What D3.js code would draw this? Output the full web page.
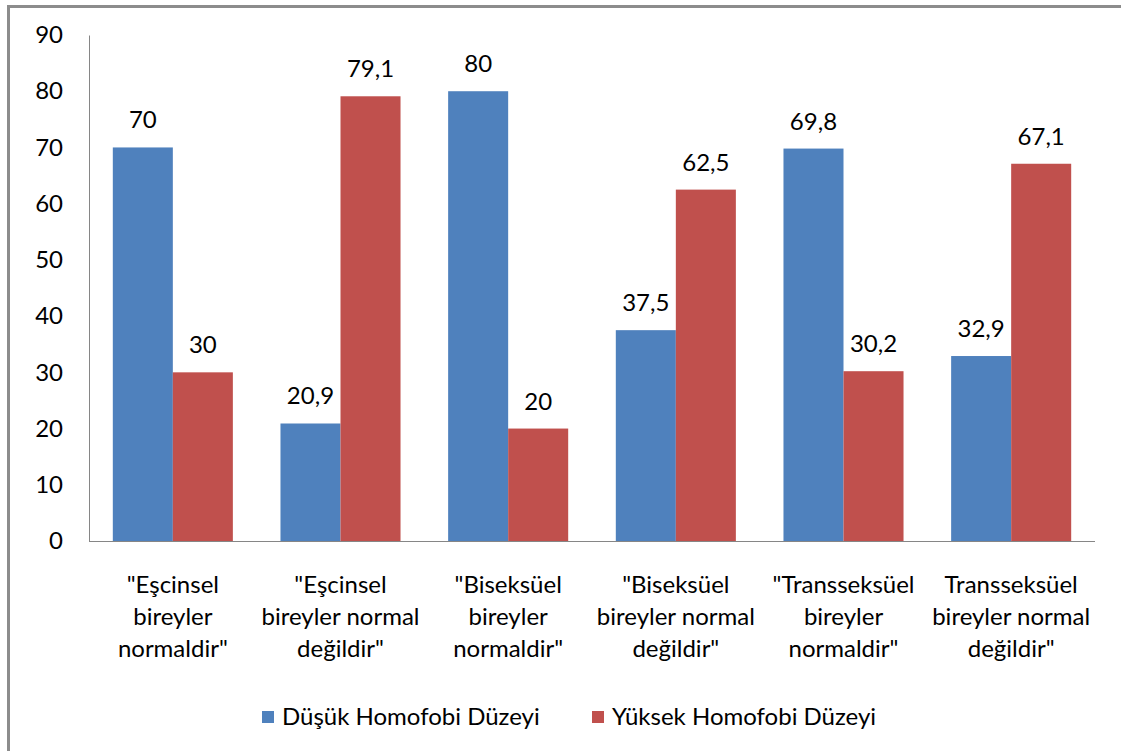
<!DOCTYPE html>
<html>
<head>
<meta charset="utf-8">
<script src="https://cdn.jsdelivr.net/npm/d3@7"></script>
<style>
  body { margin: 0; background: #fff; }
  svg text { font-family: Lato, "Open Sans", sans-serif; fill: #000; }
</style>
</head>
<body>
<div class="chart"></div>
<script>
// veriler
const categories = [
  ['"Eşcinsel', 'bireyler', 'normaldir"'],
  ['"Eşcinsel', 'bireyler normal', 'değildir"'],
  ['"Biseksüel', 'bireyler', 'normaldir"'],
  ['"Biseksüel', 'bireyler normal', 'değildir"'],
  ['"Transseksüel', 'bireyler', 'normaldir"'],
  ['Transseksüel', 'bireyler normal', 'değildir"']
];
const seriesNames = ['Düşük Homofobi Düzeyi', 'Yüksek Homofobi Düzeyi'];
const dusuk = [70, 20.9, 80, 37.5, 69.8, 32.9];
const yuksek = [30, 79.1, 20, 62.5, 30.2, 67.1];
const yTicks = [0, 10, 20, 30, 40, 50, 60, 70, 80, 90];
const colors = ['#4F81BD', '#C0504D'];

const W = 1121, H = 751;
const margin = {top: 35, right: 26, bottom: 210, left: 89};
const chartW = W - margin.left - margin.right;
const chartH = H - margin.top - margin.bottom;

const svg = d3.select('.chart').append('svg')
  .attr('width', W).attr('height', H);

// çerçeve
svg.append('path')
  .attr('d', `M8.5,${H} L8.5,6.5 L${W},6.5`)
  .attr('fill', 'none').attr('stroke', '#8c8c8c').attr('stroke-width', 3);

const g = svg.append('g').attr('transform', `translate(${margin.left},${margin.top})`);

const idx = d3.range(categories.length);
const x0 = d3.scaleBand().domain(idx).range([0, chartW]).paddingInner(0.284).paddingOuter(0.142);
const x1 = d3.scaleBand().domain([0, 1]).range([0, x0.bandwidth()]);
const y = d3.scaleLinear().domain([0, 90]).range([chartH, 0]);

// y ekseni
const yAxis = d3.axisLeft(y).tickValues(yTicks).tickSize(0).tickPadding(26);
const yG = g.append('g').call(yAxis);
yG.select('.domain').attr('stroke', '#868686');
yG.selectAll('text').style('font-size', '24px').style('font-family', 'Lato, sans-serif');

const data = idx.map(i => [dusuk[i], yuksek[i]]);

const groups = g.selectAll('.grp').data(data).enter().append('g')
  .attr('transform', (d, i) => `translate(${x0(i)},0)`);

groups.selectAll('rect').data(d => d).enter().append('rect')
  .attr('x', (d, j) => x1(j))
  .attr('y', d => y(d))
  .attr('width', x1.bandwidth())
  .attr('height', d => chartH - y(d))
  .attr('fill', (d, j) => colors[j]);

groups.selectAll('.lbl').data(d => d).enter().append('text')
  .attr('class', 'lbl')
  .attr('x', (d, j) => x1(j) + x1.bandwidth() / 2)
  .attr('y', d => y(d) - 19)
  .attr('text-anchor', 'middle')
  .style('font-size', '24px')
  .text(d => String(d).replace('.', ','));

// x ekseni
g.append('line')
  .attr('x1', 0).attr('x2', chartW)
  .attr('y1', chartH + 0.5).attr('y2', chartH + 0.5)
  .attr('stroke', '#868686');

const xl = g.selectAll('.xl').data(categories).enter().append('text')
  .attr('class', 'xl')
  .attr('text-anchor', 'middle')
  .attr('transform', (d, i) => `translate(${x0(i) + x0.bandwidth() / 2},${chartH + 52})`)
  .style('font-size', '24px');
xl.selectAll('tspan').data(d => d).enter().append('tspan')
  .attr('x', 0).attr('dy', (d, k) => k === 0 ? 0 : 32)
  .text(d => d);

// lejant
const legend = svg.append('g').attr('transform', 'translate(262,711)');
const lx = [0, 330];
seriesNames.forEach((name, i) => {
  legend.append('rect').attr('x', lx[i]).attr('y', 0).attr('width', 12).attr('height', 12).attr('fill', colors[i]);
  legend.append('text').attr('x', lx[i] + 20).attr('y', 14).style('font-size', '24px').text(name);
});
</script>
</body>
</html>
